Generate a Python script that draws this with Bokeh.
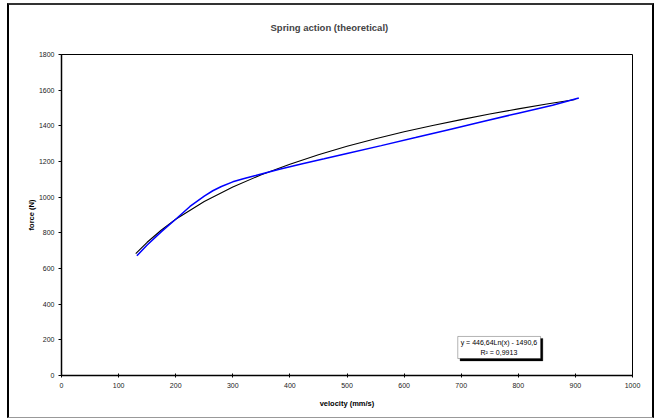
from bokeh.plotting import figure
from bokeh.models import BoxAnnotation, Label, Range1d, InlineStyleSheet
from bokeh.embed import file_html
from bokeh.resources import INLINE

velocity = [132, 150, 175, 200, 225, 250, 265, 280, 300, 320, 340, 360, 380, 420, 460, 500, 560, 620, 680, 740, 800, 860, 906]
force = [671, 732, 807, 876, 948, 1006, 1036, 1060, 1086, 1105, 1121, 1138, 1155, 1186, 1215, 1245, 1289, 1334, 1380, 1426, 1471, 1515, 1556]
# logarithmic trend line (black)
trend_v = [130, 150, 175, 200, 250, 300, 350, 400, 450, 500, 550, 600, 650, 700, 750, 800, 850, 900]
trend_f = [683, 747, 816, 876, 976, 1057, 1126, 1185, 1238, 1285, 1328, 1367, 1402, 1435, 1466, 1495, 1522, 1548]
x_ticks = [0, 100, 200, 300, 400, 500, 600, 700, 800, 900, 1000]
y_ticks = [0, 200, 400, 600, 800, 1000, 1200, 1400, 1600, 1800]
title_text = "Spring action (theoretical)"
eq_text = "y = 446,64Ln(x) - 1490,6"
r2_text = "R\u00b2 = 0,9913"

FONT = "Liberation Sans"

p = figure(width=660, height=419, output_backend="svg", toolbar_location=None,
           x_range=Range1d(0, 1000), y_range=Range1d(0, 1800),
           min_border_left=61, min_border_right=28, min_border_top=54, min_border_bottom=44)

p.title.text = title_text
p.title.align = "left"
p.title.vertical_align = "top"
p.title.text_font = FONT
p.title.text_font_size = "9.5px"
p.title.text_font_style = "bold"
p.title.offset = 209
p.title.standoff = 40

p.background_fill_color = "white"
p.border_fill_color = "white"
p.outline_line_color = "black"
p.outline_line_width = 1
p.grid.visible = False

for ax in (p.xaxis, p.yaxis):
    ax.axis_line_color = "black"
    ax.axis_line_width = 1.5
    ax.major_tick_line_color = "black"
    ax.minor_tick_line_color = None
    ax.major_label_text_font = FONT
    ax.major_label_text_font_size = "7px"
    ax.major_label_text_color = "#222222"
    ax.axis_label_text_font = FONT
    ax.axis_label_text_font_size = "7.5px"
    ax.axis_label_text_font_style = "bold"
    ax.axis_label_text_color = "black"

p.xaxis.ticker = x_ticks
p.yaxis.ticker = y_ticks
p.xaxis.major_tick_in = 2
p.xaxis.major_tick_out = 2
p.yaxis.major_tick_in = 0
p.yaxis.major_tick_out = 3
p.xaxis.major_label_standoff = 5
p.yaxis.major_label_standoff = 4
p.xaxis.axis_label = "velocity (mm/s)"
p.yaxis.axis_label = "force (N)"
p.xaxis.axis_label_standoff = 8
p.yaxis.axis_label_standoff = 0

p.line(trend_v, trend_f, line_color="black", line_width=1.1)
p.line(velocity, force, line_color="#0000ff", line_width=1.5)

# equation box with shadow
p.add_layout(BoxAnnotation(left=698, right=843, bottom=82, top=208, fill_color="black",
                           fill_alpha=1, line_color="black", level="overlay"))
p.add_layout(BoxAnnotation(left=694, right=839, bottom=95, top=219, fill_color="white",
                           fill_alpha=1, line_color="black", line_width=1, level="overlay"))
p.add_layout(Label(x=766, y=186, text=eq_text, text_align="center", text_baseline="middle",
                   text_font=FONT, text_font_size="7px", text_color="black", level="overlay"))
p.add_layout(Label(x=766, y=129, text=r2_text, text_align="center", text_baseline="middle",
                   text_font=FONT, text_font_size="7px", text_color="black", level="overlay"))

# outer chart-area frame drawn with CSS on the figure host
frame_css = """
:host { position: relative; }
:host::after {
  content: "";
  position: absolute;
  left: 7px; top: 3px; width: 647px; height: 415px;
  box-sizing: border-box;
  border-left: 2px solid #000000;
  border-top: 2px solid #333333;
  border-right: 2px solid #000000;
  border-bottom: 1px solid #999999;
  pointer-events: none;
  z-index: 1000;
}
"""
p.stylesheets = [InlineStyleSheet(css=frame_css)]

open("out.html", "w").write(file_html(p, INLINE))
